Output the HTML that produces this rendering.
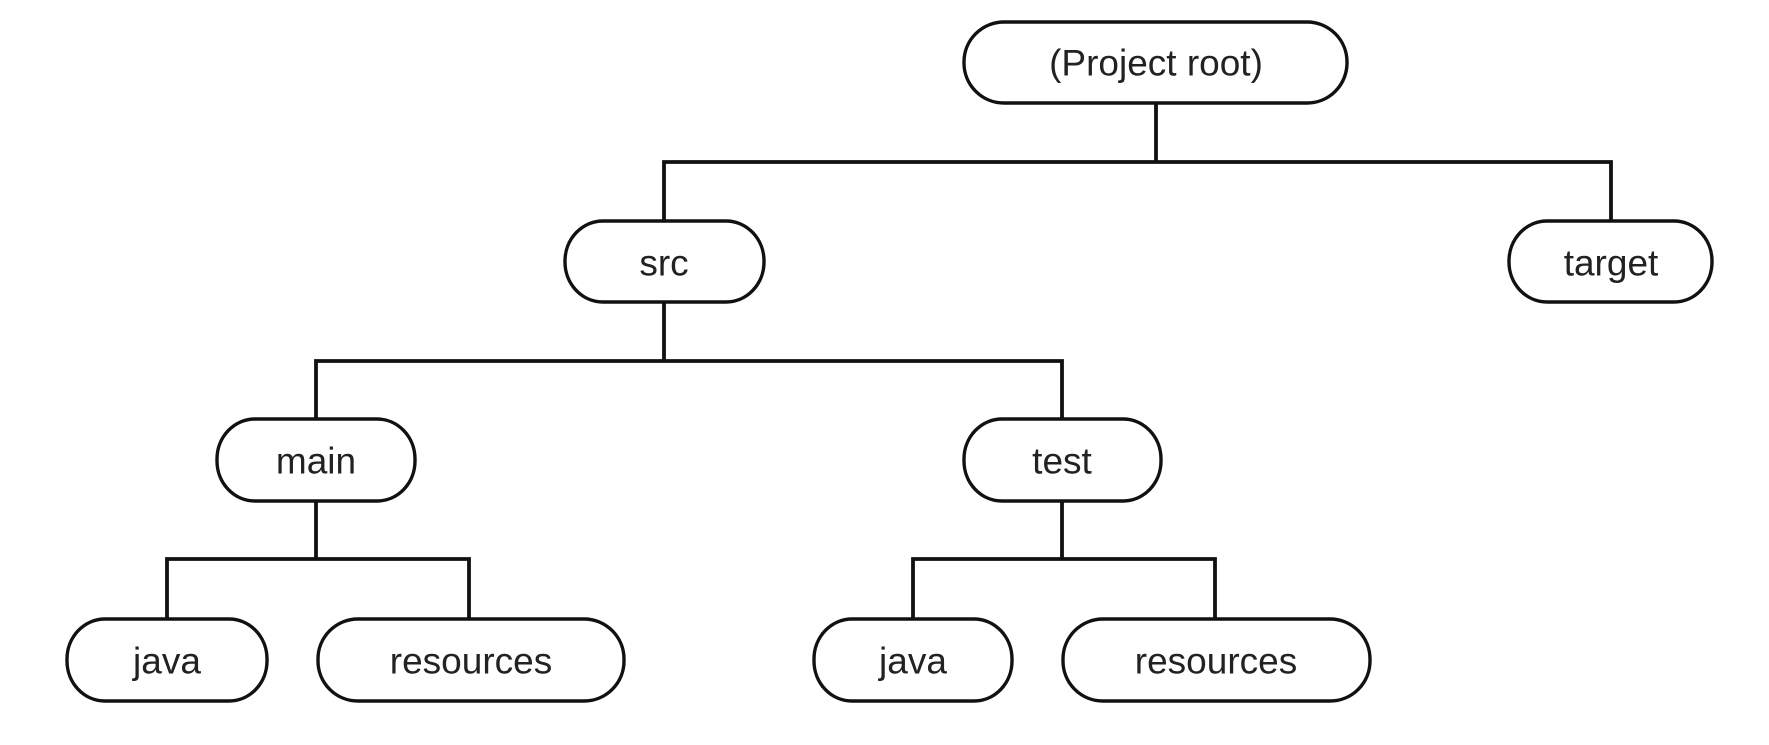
<!DOCTYPE html>
<html><head><meta charset="utf-8"><style>
html,body{margin:0;padding:0;background:#fff;}
svg{display:block}
text{font-family:"Liberation Sans",Arial,sans-serif;font-size:37px;fill:#222;text-anchor:middle;dominant-baseline:central}
rect{fill:#fff;stroke:#111;stroke-width:3.4}
path{fill:none;stroke:#111;stroke-width:3.8}
</style></head><body>
<svg width="1769" height="745" viewBox="0 0 1769 745">
<path d="M1156 103 V162 M664 221 V162 H1611 V221"/>
<path d="M664 302 V361 M316 419 V361 H1062 V419"/>
<path d="M316 501 V559 M167 619 V559 H469 V619"/>
<path d="M1062 501 V559 M913 619 V559 H1215 V619"/>
<rect x="964" y="22" width="383" height="81" rx="40" ry="40"/>
<text x="1156" y="63">(Project root)</text>
<rect x="565" y="221" width="199" height="81" rx="38" ry="40"/>
<text x="664" y="263">src</text>
<rect x="1509" y="221" width="203" height="81" rx="38" ry="40"/>
<text x="1611" y="263">target</text>
<rect x="217" y="419" width="198" height="82" rx="38" ry="40"/>
<text x="316" y="461">main</text>
<rect x="964" y="419" width="197" height="82" rx="38" ry="40"/>
<text x="1062" y="461">test</text>
<rect x="67" y="619" width="200" height="82" rx="38" ry="40"/>
<text x="167" y="661">java</text>
<rect x="318" y="619" width="306" height="82" rx="40" ry="40"/>
<text x="471" y="661">resources</text>
<rect x="814" y="619" width="198" height="82" rx="38" ry="40"/>
<text x="913" y="661">java</text>
<rect x="1063" y="619" width="307" height="82" rx="40" ry="40"/>
<text x="1216" y="661">resources</text>
</svg>
</body></html>
